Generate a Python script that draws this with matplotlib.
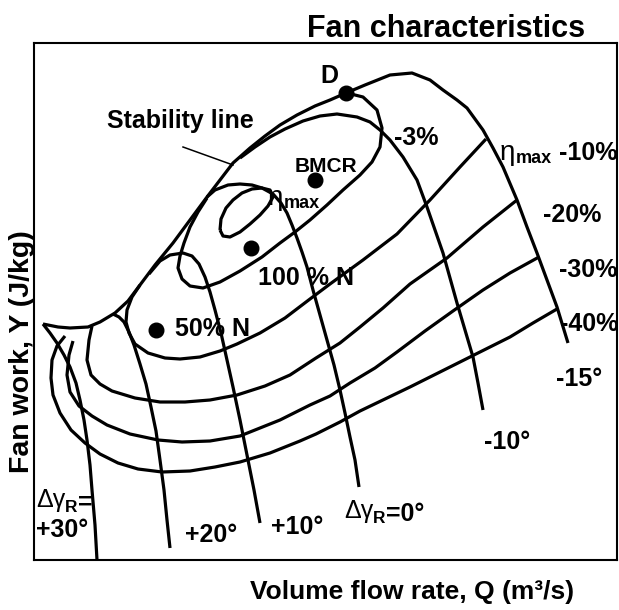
import matplotlib.pyplot as plt

plt.rcParams["font.family"] = ["Liberation Sans", "DejaVu Sans"]
plt.rcParams["font.weight"] = "bold"

# Fan map in chart units: Q (volume flow) across, Y (fan work) up.
# The frame spans Q 0..583 and Y 0..517, no scale is printed.
Q_MAX, Y_MAX = 583, 517

# stability (stall) line from the left tip up to point D
STABILITY = [(9, 236), (24, 233), (36, 232), (54, 233), (66, 238), (81, 247),
             (94, 259), (106, 275), (121, 295), (139, 317), (156, 340),
             (173, 363), (186, 380), (199, 397), (216, 412), (231, 424),
             (246, 435), (263, 445), (281, 454), (296, 460), (312, 467)]

# blade angle curves, delta gamma_R
BLADE_M15 = [(312, 467), (331, 475), (356, 485), (378, 487), (396, 480),
             (409, 470), (423, 460), (433, 452), (449, 430), (459, 412),
             (469, 393), (483, 360), (493, 333), (503, 307), (513, 280),
             (523, 253), (534, 217)]
BLADE_M10 = [(206, 402), (221, 413), (236, 423), (251, 431), (269, 439),
             (286, 444), (303, 446), (323, 443), (336, 438), (346, 430),
             (356, 420), (369, 403), (383, 380), (393, 353), (401, 330),
             (409, 307), (416, 282), (423, 257), (431, 230), (439, 203),
             (444, 177), (449, 150)]
BLADE_0 = [(173, 363), (181, 370), (194, 375), (206, 376), (218, 375),
           (228, 372), (239, 366), (247, 357), (253, 347), (258, 335),
           (263, 322), (268, 308), (273, 293), (279, 270), (286, 245),
           (293, 220), (300, 195), (306, 170), (311, 147), (316, 123),
           (321, 100), (325, 73)]
BLADE_P10 = [(115, 286), (126, 299), (136, 305), (149, 307), (158, 304),
             (165, 296), (171, 283), (176, 268), (181, 250), (187, 227),
             (193, 200), (199, 173), (206, 140), (213, 105), (220, 70),
             (226, 37)]
BLADE_P20 = [(79, 246), (85, 243), (90, 238), (95, 228), (100, 215),
             (106, 196), (112, 176), (117, 153), (122, 129), (126, 100),
             (130, 70), (133, 40), (136, 12)]
BLADE_P30 = [(9, 236), (16, 227), (23, 217), (30, 205), (36, 193), (42, 177),
             (46, 160), (50, 140), (53, 120), (56, 95), (58, 70), (61, 35),
             (63, 0)]

# efficiency contours (eta_max, eta_max - 3 % ... - 40 %)
ETA_MAX = [(186, 330), (187, 341), (192, 352), (199, 360), (208, 367),
           (218, 371), (228, 372), (236, 370), (239, 363), (234, 354),
           (226, 345), (216, 336), (206, 328), (196, 323), (189, 324),
           (186, 330)]
ETA_3 = [(173, 362), (164, 348), (156, 333), (150, 317), (146, 304),
         (144, 292), (148, 281), (156, 274), (169, 272), (186, 278),
         (206, 289), (228, 303), (246, 317), (261, 328), (276, 340),
         (293, 355), (309, 370), (326, 385), (338, 398), (346, 413),
         (348, 432), (343, 450), (329, 463), (313, 467)]
ETA_10 = [(106, 275), (98, 263), (93, 250), (92, 238), (95, 227), (101, 216),
          (114, 207), (131, 202), (146, 201), (166, 203), (186, 209),
          (203, 216), (226, 227), (251, 242), (276, 261), (296, 276),
          (329, 300), (363, 326), (396, 360), (426, 393), (452, 421)]
ETA_20 = [(58, 234), (55, 220), (53, 200), (57, 185), (66, 176), (78, 169),
          (101, 162), (126, 158), (151, 158), (176, 160), (203, 165),
          (231, 174), (256, 185), (282, 202), (306, 217), (326, 233),
          (349, 252), (376, 276), (413, 302), (449, 333), (483, 360)]
ETA_30 = [(39, 219), (35, 205), (33, 185), (36, 168), (45, 154), (58, 144),
          (73, 135), (96, 126), (124, 120), (148, 118), (176, 119),
          (206, 124), (246, 140), (276, 155), (296, 164), (316, 177),
          (341, 192), (363, 208), (391, 229), (419, 249), (449, 270),
          (476, 287), (505, 303)]
ETA_40 = [(31, 224), (23, 214), (18, 200), (17, 182), (19, 165), (26, 147),
          (37, 130), (51, 117), (66, 106), (84, 97), (104, 91), (128, 88),
          (156, 89), (181, 93), (206, 98), (236, 107), (266, 119),
          (282, 126), (306, 138), (326, 149), (351, 161), (376, 173),
          (406, 188), (436, 203), (456, 213), (476, 223), (499, 237),
          (523, 251)]

CURVES = [STABILITY, BLADE_M15, BLADE_M10, BLADE_0, BLADE_P10, BLADE_P20,
          BLADE_P30, ETA_MAX, ETA_3, ETA_10, ETA_20, ETA_30, ETA_40]

# leader from the "Stability line" label to the curve
LEADER = [(149, 413), (199, 395)]

# operating points: D, BMCR, 100 % N, 50 % N
POINT_Q = [312, 281, 217, 122]
POINT_Y = [467, 380, 312, 230]

FS = 18


def label_run(ax, x, y, parts):
    """Text pieces set one after the other, e.g. a symbol with subscript."""
    txt, size, weight, dy = parts[0]
    prev = ax.text(x, y, txt, fontsize=size, fontweight=weight,
                   ha="left", va="center")
    for txt, size, weight, dy in parts[1:]:
        prev = ax.annotate(txt, xy=(1, 0), xycoords=prev, xytext=(0, dy),
                           textcoords="offset points", fontsize=size,
                           fontweight=weight, ha="left", va="bottom")
    return prev


fig = plt.figure(figsize=(6.19, 6.10), dpi=100)
ax = fig.add_axes([34 / 619, 50 / 610, 583 / 619, 517 / 610])
ax.set_xlim(0, Q_MAX)
ax.set_ylim(0, Y_MAX)
ax.set_xticks([])
ax.set_yticks([])
for sp in ax.spines.values():
    sp.set_linewidth(1.5)

for curve in CURVES:
    q, y = zip(*curve)
    ax.plot(q, y, color="black", lw=2.3, solid_joinstyle="round",
            solid_capstyle="butt")

q, y = zip(*LEADER)
ax.plot(q, y, color="black", lw=1.1)
ax.plot(POINT_Q, POINT_Y, "o", color="black", ms=10.5, ls="none")

# point and curve labels
ax.text(295, 484, "D", fontsize=FS, ha="center", va="center")
ax.text(146, 439, "Stability line", fontsize=FS, ha="center", va="center")
ax.text(292, 394, "BMCR", fontsize=15, ha="center", va="center")
ax.text(382, 422, "-3%", fontsize=FS, ha="center", va="center")
label_run(ax, 234, 362, [("η", 20, "normal", 0), ("max", 13, "bold", -1)])
label_run(ax, 466, 407, [("η", 20, "normal", 0), ("max", 13, "bold", -1)])
ax.text(583, 407, "-10%", fontsize=FS, ha="right", va="center")
ax.text(538, 345, "-20%", fontsize=FS, ha="center", va="center")
ax.text(554, 290, "-30%", fontsize=FS, ha="center", va="center")
ax.text(555, 236, "-40%", fontsize=FS, ha="center", va="center")
ax.text(545, 181, "-15°", fontsize=FS, ha="center", va="center")
ax.text(473, 118, "-10°", fontsize=FS, ha="center", va="center")
label_run(ax, 310, 49, [("Δγ", FS, "normal", 0), ("R", 12.5, "bold", -2),
                        ("=0°", FS, "bold", 0)])
ax.text(263, 33, "+10°", fontsize=FS, ha="center", va="center")
ax.text(177, 25, "+20°", fontsize=FS, ha="center", va="center")
label_run(ax, 2, 60, [("Δγ", FS, "normal", 0), ("R", 12.5, "bold", -2),
                      ("=", FS, "bold", 0)])
ax.text(2, 30, "+30°", fontsize=FS, ha="left", va="center")
ax.text(224, 282, "100 % N", fontsize=FS, ha="left", va="center")
ax.text(141, 231, "50% N", fontsize=FS, ha="left", va="center")

fig.text(0.7205, 0.9525, "Fan characteristics", fontsize=22,
         ha="center", va="center")
fig.text(0.666, 0.0295, "Volume flow rate, Q (m³/s)", fontsize=19,
         ha="center", va="center")
fig.text(0.0355, 0.423, "Fan work, Y (J/kg)", fontsize=20.5, rotation=90,
         ha="center", va="center")

fig.savefig("out.png", dpi=100)
